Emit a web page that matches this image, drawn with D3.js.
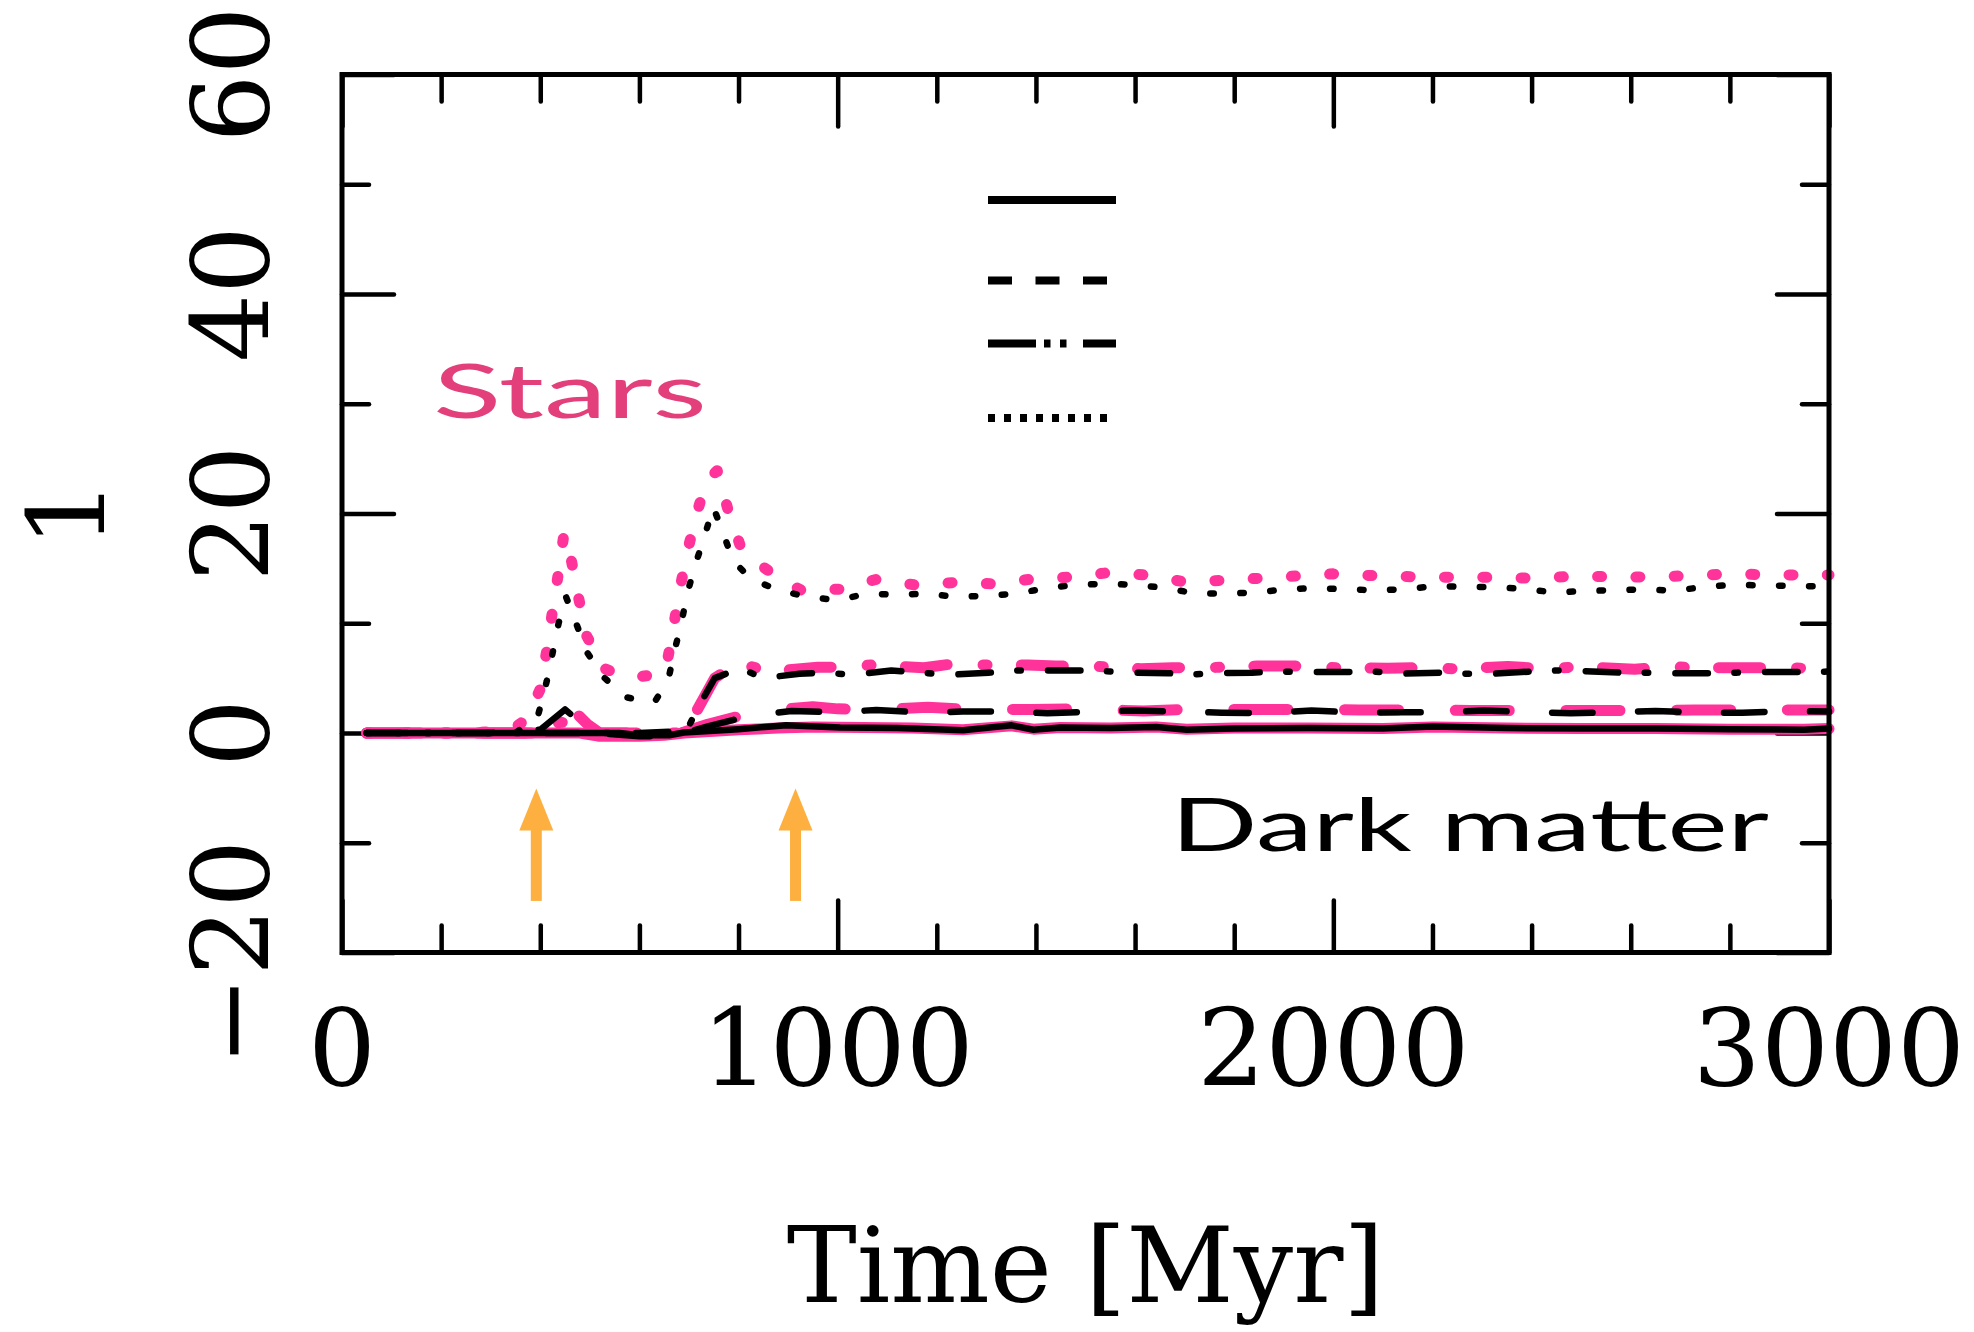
<!DOCTYPE html>
<html><head><meta charset="utf-8">
<script src="https://cdn.jsdelivr.net/npm/d3@7"></script>
<style>html,body{margin:0;padding:0;background:#fff;}svg{display:block;}</style>
</head><body>
<script>
// ---------- data (Time in Myr) ----------
const xMajorTicks = [0, 1000, 2000, 3000];
const yMajorTicks = [-20, 0, 20, 40, 60];
const xTickLabels = ["0", "1000", "2000", "3000"];
const yTickLabels = ["\u221220", "0", "20", "40", "60"];
const xLabel = "Time [Myr]";
const yLabel = "1";

const starsSolidT = [50, 300, 480, 520, 600, 650, 690, 750, 800, 880, 950, 1050, 1150, 1253, 1351, 1395, 1449, 1550, 1643, 1704, 1800, 1950, 2100, 2201, 2350, 2500, 2650, 2800, 2950, 3000];
const starsSolidV = [0, 0, 0, -0.3, -0.3, -0.2, 0, 0.15, 0.3, 0.45, 0.55, 0.5, 0.45, 0.3, 0.65, 0.35, 0.5, 0.45, 0.55, 0.35, 0.45, 0.45, 0.4, 0.55, 0.45, 0.4, 0.4, 0.35, 0.35, 0.4];

const starsDashedT = [50, 300, 400, 430, 450, 475, 495, 520, 600, 690, 738, 790, 827, 900, 950, 1000, 1061, 1120, 1182, 1262, 1391, 1484, 1617, 1708, 1945, 2052, 2183, 2277, 2408, 2503, 2631, 2728, 2855, 2950, 3000];
const starsDashedV = [0, 0, 0, 1.5, 1.9, 1.7, 0.8, 0, 0, 0.1, 0.8, 1.4, 1.8, 2.2, 2.4, 2.2, 2.15, 2.2, 2.35, 2.15, 2.15, 2.2, 2.0, 2.15, 2.15, 2.1, 2.1, 2.05, 2.05, 2.05, 2.05, 2.1, 2.1, 2.1, 2.1];

const starsDashdotT = [50, 300, 400, 440, 470, 495, 520, 690, 702, 752, 799, 860, 960, 1003, 1070, 1174, 1233, 1280, 1384, 1440, 1508, 1612, 1675, 1742, 1846, 1943, 2005, 2109, 2181, 2245, 2352, 2436, 2500, 2608, 2671, 2735, 2843, 2906, 3000];
const starsDashdotV = [0, 0, 0, 1.0, 0.8, 0.3, 0, 0, 0.9, 5.0, 6.4, 5.6, 6.0, 6.0, 6.2, 5.95, 6.3, 6.2, 6.2, 6.1, 6.1, 5.85, 5.95, 5.95, 6.1, 6.1, 5.95, 5.9, 5.95, 5.85, 6.05, 5.85, 6.05, 5.8, 6.05, 5.95, 5.95, 5.95, 5.85];

const starsDottedT = [50, 150, 250, 340, 370, 399, 413, 424, 436, 448, 462, 477, 493, 528, 560, 594, 630, 653, 667, 680, 695, 714, 735, 757, 779, 804, 835, 863, 895, 927, 1004, 1078, 1155, 1232, 1310, 1387, 1468, 1545, 1622, 1696, 1774, 1851, 1925, 2000, 2100, 2200, 2300, 2400, 2500, 2600, 2700, 2800, 2900, 3000];
const starsDottedV = [0, 0, 0, 0.2, 1.2, 3.9, 7.5, 10.9, 14.4, 18.2, 15.9, 12.4, 8.9, 5.9, 5.3, 5.1, 5.3, 5.7, 9.2, 12.7, 16.2, 19.7, 23.0, 23.9, 20.3, 17.0, 15.6, 14.7, 13.8, 13.0, 13.1, 14.0, 13.5, 13.7, 13.6, 14.0, 14.2, 14.6, 14.4, 13.8, 13.9, 14.1, 14.3, 14.5, 14.3, 14.2, 14.2, 14.1, 14.3, 14.2, 14.3, 14.5, 14.4, 14.4];

const dmSolidT = [50, 300, 560, 600, 660, 690, 750, 800, 896, 1005, 1120, 1253, 1351, 1395, 1449, 1550, 1643, 1704, 1800, 1950, 2100, 2201, 2350, 2500, 2650, 2800, 2950, 3000];
const dmSolidV = [0, 0, 0, -0.2, -0.2, 0.05, 0.2, 0.35, 0.7, 0.5, 0.45, 0.25, 0.7, 0.3, 0.5, 0.45, 0.55, 0.3, 0.4, 0.45, 0.4, 0.6, 0.45, 0.4, 0.4, 0.35, 0.3, 0.4];

const dmDashedT = [50, 300, 400, 450, 463, 485, 515, 600, 660, 700, 738, 790, 827, 907, 1000, 1078, 1175, 1252, 1340, 1423, 1520, 1601, 1695, 1775, 1870, 1956, 2050, 2130, 2224, 2304, 2398, 2479, 2570, 2650, 2743, 2825, 2916, 3000];
const dmDashedV = [0, 0, 0.3, 2.15, 1.65, 0.8, 0, -0.3, -0.3, 0.1, 0.6, 1.2, 1.6, 2.0, 1.9, 2.1, 1.85, 1.95, 1.95, 1.8, 1.95, 2.05, 1.95, 1.85, 1.8, 2.05, 1.85, 1.9, 1.9, 2.05, 1.9, 1.8, 1.9, 2.0, 1.85, 1.85, 2.0, 1.95];

const dmDashdotT = [50, 300, 600, 695, 718, 752, 803, 850, 923, 977, 1030, 1108, 1168, 1226, 1304, 1363, 1415, 1493, 1530, 1587, 1667, 1705, 1759, 1836, 1886, 1940, 2016, 2082, 2137, 2215, 2271, 2322, 2399, 2452, 2502, 2579, 2632, 2686, 2763, 2814, 2868, 2946, 3000];
const dmDashdotV = [0, 0, 0, 0.2, 2.3, 5.0, 5.9, 5.0, 5.4, 5.5, 5.3, 5.7, 5.5, 5.3, 5.5, 5.7, 5.7, 5.7, 5.65, 5.5, 5.45, 5.3, 5.45, 5.5, 5.6, 5.55, 5.55, 5.6, 5.4, 5.5, 5.4, 5.4, 5.6, 5.7, 5.65, 5.5, 5.5, 5.45, 5.45, 5.5, 5.55, 5.55, 5.6];

const dmDottedT = [50, 200, 350, 395, 413, 425, 437, 452, 474, 495, 530, 574, 600, 631, 658, 671, 685, 697, 714, 732, 749, 769, 789, 826, 882, 940, 1000, 1059, 1120, 1180, 1240, 1300, 1360, 1421, 1481, 1542, 1602, 1663, 1723, 1784, 1844, 1905, 1965, 2025, 2086, 2146, 2207, 2267, 2328, 2388, 2449, 2509, 2570, 2630, 2690, 2751, 2811, 2871, 2932, 3000];
const dmDottedV = [0, 0, 0, 1.5, 4.7, 7.3, 10.0, 12.4, 9.8, 7.3, 5.0, 3.25, 3.0, 2.85, 4.8, 7.5, 10.1, 12.8, 15.5, 18.0, 20.6, 18.2, 15.7, 14.0, 13.0, 12.4, 12.1, 12.7, 12.6, 12.7, 12.4, 12.5, 12.7, 13.2, 13.5, 13.6, 13.5, 13.2, 12.7, 12.7, 12.8, 13.1, 13.2, 13.1, 13.0, 13.1, 13.4, 13.3, 13.3, 13.1, 12.8, 12.95, 13.0, 13.1, 12.95, 13.35, 13.5, 13.45, 13.4, 13.35];

const arrowTimes = [392, 915];
const arrowTail = -15.3;
const arrowTip = -5.05;

const legendStyles = ["solid", "dashed", "dashdot", "dotted"];

// ---------- layout ----------
const W = 1974, H = 1332;
const L = 342, R = 1829, T = 74.5, B = 952.5;
const PINK = "#ff3399", BLACK = "#000", ORANGE = "#fdb03f";
const SERIF = "'DejaVu Serif', 'Liberation Serif', serif";

const svg = d3.select("body").append("svg").attr("width", W).attr("height", H)
  .attr("viewBox", `0 0 ${W} ${H}`);
svg.append("rect").attr("width", W).attr("height", H).attr("fill", "#fff");

const x = d3.scaleLinear().domain([0, 3000]).range([L, R]);
const y = d3.scaleLinear().domain([-20, 60]).range([B, T]);

const xMinor = d3.range(0, 3001, 200).filter(v => !xMajorTicks.includes(v));
const yMinor = d3.range(-20, 61, 10).filter(v => !yMajorTicks.includes(v));
const MAJ = 52, MIN = 27;

function tickAxis(axisFn, scale, values, size, tx, ty) {
  const g = svg.append("g").attr("transform", `translate(${tx},${ty})`)
    .call(axisFn(scale).tickValues(values).tickSize(size).tickFormat(""));
  g.select(".domain").remove();
  g.selectAll(".tick line").attr("stroke", BLACK).attr("stroke-width", 4.5).attr("stroke-linecap", "round");
  return g;
}
// inward ticks on all four sides
tickAxis(d3.axisBottom, x, xMajorTicks, -MAJ, 0, B);
tickAxis(d3.axisBottom, x, xMinor, -MIN, 0, B);
tickAxis(d3.axisTop, x, xMajorTicks, -MAJ, 0, T);
tickAxis(d3.axisTop, x, xMinor, -MIN, 0, T);
tickAxis(d3.axisLeft, y, yMajorTicks, -MAJ, L, 0);
tickAxis(d3.axisLeft, y, yMinor, -MIN, L, 0);
tickAxis(d3.axisRight, y, yMajorTicks, -MAJ, R, 0);
tickAxis(d3.axisRight, y, yMinor, -MIN, R, 0);

// tick labels
svg.append("g").selectAll("text").data(xMajorTicks).join("text")
  .attr("x", d => x(d)).attr("y", 1085)
  .attr("text-anchor", "middle").attr("font-family", SERIF).attr("font-size", 107)
  .attr("fill", BLACK).text((d, i) => xTickLabels[i]);
svg.append("g").selectAll("text").data(yMajorTicks).join("text")
  .attr("transform", d => `translate(268,${y(d)}) rotate(-90)`)
  .attr("text-anchor", "middle").attr("font-family", SERIF).attr("font-size", 107)
  .attr("fill", BLACK).text((d, i) => yTickLabels[i]);

// axis titles
svg.append("text").attr("x", (L + R) / 2).attr("y", 1302).attr("text-anchor", "middle")
  .attr("font-family", SERIF).attr("font-size", 105).text(xLabel);
svg.append("text").attr("transform", `translate(104,${(T + B) / 2}) rotate(-90)`)
  .attr("text-anchor", "middle").attr("font-family", SERIF).attr("font-size", 107).text(yLabel);

// ---------- series ----------
const line = d3.line().x(d => x(d[0])).y(d => y(d[1]));
const zip = (t, v) => t.map((d, i) => [d, v[i]]);

const pinkDash = { solid: null, dashed: "54,56.7", dashdot: "42,36,4,34.3", dotted: "4,34.3" };
const blackDash = { solid: null, dashed: "40.5,45.5", dashdot: "32.5,26.5,3.5,27.2", dotted: "3.5,26.5" };

const series = [
  { t: starsSolidT, v: starsSolidV, c: PINK, w: 11, s: "solid", dash: pinkDash },
  { t: starsDashedT, v: starsDashedV, c: PINK, w: 11, s: "dashed", dash: pinkDash },
  { t: starsDashdotT, v: starsDashdotV, c: PINK, w: 11, s: "dashdot", dash: pinkDash },
  { t: starsDottedT, v: starsDottedV, c: PINK, w: 11, s: "dotted", dash: pinkDash },
  { t: dmSolidT, v: dmSolidV, c: BLACK, w: 6.5, s: "solid", dash: blackDash },
  { t: dmDashedT, v: dmDashedV, c: BLACK, w: 6.5, s: "dashed", dash: blackDash },
  { t: dmDashdotT, v: dmDashdotV, c: BLACK, w: 6.5, s: "dashdot", dash: blackDash },
  { t: dmDottedT, v: dmDottedV, c: BLACK, w: 6.5, s: "dotted", dash: blackDash }
];
svg.append("g").selectAll("path").data(series).join("path")
  .attr("d", d => line(zip(d.t, d.v)))
  .attr("fill", "none").attr("stroke", d => d.c).attr("stroke-width", d => d.w)
  .attr("stroke-linecap", "round").attr("stroke-linejoin", "round")
  .attr("stroke-dasharray", d => d.dash[d.s]);

// ---------- arrows ----------
const headLen = 42, headW = 34, shaftW = 11;
const ag = svg.append("g").attr("fill", ORANGE);
ag.selectAll("rect").data(arrowTimes).join("rect")
  .attr("x", d => x(d) - shaftW / 2).attr("y", y(arrowTip) + headLen - 2)
  .attr("width", shaftW).attr("height", y(arrowTail) - y(arrowTip) - headLen + 2);
ag.selectAll("path").data(arrowTimes).join("path")
  .attr("d", d => `M${x(d)},${y(arrowTip)} L${x(d) + headW / 2},${y(arrowTip) + headLen} L${x(d) - headW / 2},${y(arrowTip) + headLen} Z`);

// ---------- legend (lines only) ----------
const legendDash = { solid: null, dashed: "24,23.5", dashdot: "48,8,6.5,9.5,6.5,16.5,40", dotted: "7,9" };
const legendY = [200, 280.5, 343.5, 418];
const legendX1 = 988, legendX2 = [1116, 1116, 1116, 1108];
svg.append("g").selectAll("line").data(legendStyles).join("line")
  .attr("x1", legendX1).attr("x2", (d, i) => legendX2[i])
  .attr("y1", (d, i) => legendY[i]).attr("y2", (d, i) => legendY[i])
  .attr("stroke", BLACK).attr("stroke-width", 8).attr("stroke-linecap", "butt")
  .attr("stroke-dasharray", d => legendDash[d]);

// ---------- annotations ----------
const HAND = "Lato, 'Open Sans', sans-serif";
svg.append("text").attr("x", 433).attr("y", 418).attr("font-family", HAND).attr("font-size", 76)
  .attr("fill", "#e23f7b").attr("textLength", 274).attr("lengthAdjust", "spacingAndGlyphs").text("Stars");
svg.append("text").attr("x", 1171).attr("y", 851).attr("font-family", HAND).attr("font-size", 74)
  .attr("fill", BLACK).attr("textLength", 598).attr("lengthAdjust", "spacingAndGlyphs").text("Dark matter");

// frame
svg.append("rect").attr("x", L).attr("y", T).attr("width", R - L).attr("height", B - T)
  .attr("fill", "none").attr("stroke", BLACK).attr("stroke-width", 5);
</script>
</body></html>
